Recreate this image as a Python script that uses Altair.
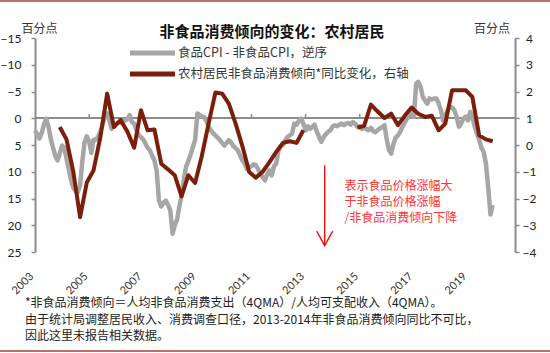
import altair as alt
import pandas as pd

# ---------------- data ----------------
# Food CPI - non-food CPI (monthly, percentage points), Jan..Dec per year
gray_2003 = [2.3, 3.0, 3.8, 2.8, 1.2, 0.1, 1.5, 3.8, 5.5, 7.0, 7.9, 6.6]
gray_2004 = [5.1, 5.5, 7.5, 9.5, 11.5, 13.0, 13.6, 13.8, 12.5, 8.0, 4.4, 3.4]
gray_2005 = [4.4, 6.5, 4.0, 4.0, 3.5, 2.5, 1.2, -0.3, -0.9, 0.4, 2.0, 1.2]
gray_2006 = [1.0, 0.8, 0.8, 0.6, 0.4, 0.2, -0.6, 0.7, 1.0, 2.2, 3.2, 3.5]
gray_2007 = [4.0, 4.75, 5.5, 6.0, 7.0, 7.9, 9.75, 15.4, 16.5, 15.8, 15.4, 16.2]
gray_2008 = [17.2, 21.6, 20.0, 19.0, 16.6, 14.5, 11.5, 9.1, 8.0, 6.8, 5.4, 4.1]
gray_2009 = [-0.9, -0.6, -0.3, -0.25, 0.5, 1.5, 2.25, 2.8, 3.2, 3.6, 4.1, 4.6]
gray_2010 = [5.1, 4.6, 4.1, 4.5, 5.2, 5.6, 6.0, 7.0, 7.9, 8.5, 9.5, 9.1]
gray_2011 = [9.0, 8.6, 8.8, 9.5, 10.4, 11.0, 11.6, 10.5, 9.75, 10.7, 9.0, 8.5]
gray_2012 = [6.0, 5.2, 5.0, 4.1, 3.5, 3.2, 2.9, 1.0, 1.2, 0.5, 0.05, 1.0]
gray_2013 = [2.25, 1.5, 2.0, 1.6, 1.2, 2.5, 3.5, 4.4, 3.5, 3.0, 2.5, 2.25]
gray_2014 = [1.5, 1.3, 1.5, 1.2, 1.0, 1.3, 1.0, 0.9, 1.2, 0.7, 1.0, 1.6]
gray_2015 = [1.5, 2.0, 1.8, 2.0, 2.25, 1.8, 2.4, 2.6, 2.2, 1.9, 1.6, 1.3]
gray_2016 = [4.0, 6.0, 6.6, 4.75, 3.6, 3.2, 2.5, 1.6, 0.8, 0.05, -0.5, -1.2]
gray_2017 = [-0.25, -6.5, -6.8, -5.9, -4.0, -3.3, -2.75, -3.7, -3.5, -3.7, -3.7, -2.8]
gray_2018 = [-1.5, 0.5, -0.5, -1.5, -2.1, -2.0, -1.5, -0.3, 1.6, 1.0, 0.05, -0.3]
gray_2019 = [0.4, -1.2, -0.25, 1.5, 2.8, 4.0, 5.5, 6.3, 8.5, 12.9, 18.0, 16.2]
gray_years = list(range(2003, 2020))
gray_by_year = [gray_2003, gray_2004, gray_2005, gray_2006, gray_2007, gray_2008,
                gray_2009, gray_2010, gray_2011, gray_2012, gray_2013, gray_2014,
                gray_2015, gray_2016, gray_2017, gray_2018, gray_2019]

# Rural non-food consumption propensity, yoy change (quarterly, right axis)
red_dates_a = ["2003-12", "2004-03", "2004-06", "2004-09", "2004-12", "2005-03", "2005-06",
               "2005-09", "2005-12", "2006-03", "2006-06", "2006-09", "2006-12", "2007-03",
               "2007-06", "2007-09", "2007-12", "2008-03", "2008-06", "2008-09", "2008-12",
               "2009-03", "2009-06", "2009-09", "2009-12", "2010-03", "2010-06", "2010-09",
               "2010-12", "2011-03", "2011-06", "2011-09", "2011-12", "2012-03", "2012-06",
               "2012-09", "2012-12"]
red_vals_a = [0.67, 0.21, -1.0, -2.70, -1.39, -0.95, 0.29, 1.92, 0.67, 0.93, 0.5, -0.10,
              1.30, 0.55, 0.58, -0.70, -0.91, -1.13, -1.92, -1.13, -1.42, -0.42, 0.80,
              1.96, 1.92, 1.55, 0.80, -0.05, -1.01, -1.22, -1.0, -0.64, -0.26, 0.08, 0.14,
              0.08, 0.55]
red_dates_b = ["2014-12", "2015-03", "2015-06", "2015-09", "2015-12", "2016-03", "2016-06",
               "2016-09", "2016-12", "2017-03", "2017-06", "2017-09", "2017-12", "2018-03",
               "2018-06", "2018-09", "2018-12", "2019-03", "2019-06", "2019-09", "2019-12"]
red_vals_b = [0.65, 0.71, 1.51, 1.25, 1.01, 1.17, 0.74, 1.1, 1.40, 1.17, 1.05, 1.09, 0.55,
              0.80, 2.05, 2.05, 2.05, 1.80, 0.36, 0.21, 0.14]

tick_years = [2005, 2007, 2009, 2011, 2013, 2015, 2017, 2019]
label_years = [2003, 2005, 2007, 2009, 2011, 2013, 2015, 2017, 2019]
left_ticks = [-15, -10, -5, 0, 5, 10, 15, 20, 25]
right_ticks = [4, 3, 2, 1, 0, -1, -2, -3, -4]

title_text = "非食品消费倾向的变化：农村居民"
legend_gray = "食品CPI - 非食品CPI，逆序"
legend_red = "农村居民非食品消费倾向*同比变化，右轴"
unit_text = "百分点"
ann_lines = ["表示食品价格涨幅大", "于非食品价格涨幅", "/非食品消费倾向下降"]
ann_level = [12.6, 15.6, 18.6]
ann_date = "2014-06-10"
arrow_date = "2013-09-15"
arrow_top, arrow_bottom = 8.8, 23.8
notes = ["*非食品消费倾向＝人均非食品消费支出（4QMA）/人均可支配收入（4QMA）。",
         "由于统计局调整居民收入、消费调查口径，2013-2014年非食品消费倾向同比不可比，",
         "因此这里未报告相关数据。"]

# ---------------- tables ----------------
gray_rows = []
for yr, vals in zip(gray_years, gray_by_year):
    for m, v in enumerate(vals, start=1):
        gray_rows.append({"date": pd.Timestamp(yr, m, 1), "v": v})
gray_df = pd.DataFrame(gray_rows)

red_df = pd.DataFrame(
    [{"date": pd.Timestamp(d + "-01"), "v": v, "seg": "a"} for d, v in zip(red_dates_a, red_vals_a)]
    + [{"date": pd.Timestamp(d + "-01"), "v": v, "seg": "b"} for d, v in zip(red_dates_b, red_vals_b)]
)
tick_df = pd.DataFrame({"date": [pd.Timestamp(y, 1, 1) for y in tick_years]})
xlab_df = pd.DataFrame({"date": [pd.Timestamp(y, 1, 1) for y in label_years],
                        "lbl": [str(y) for y in label_years]})
ann_df = pd.DataFrame({"date": [pd.Timestamp(ann_date)] * 3, "v": ann_level, "t": ann_lines})
arrow_df = pd.DataFrame({"date": [pd.Timestamp(arrow_date)], "top": [arrow_top], "bot": [arrow_bottom]})

W, H = 480, 214
GRAY = "#A6A6A6"
RED = "#7B1E0B"
AXC = "#8C8C8C"
FONT = "Noto Sans CJK SC"
NUMFONT = "Lato"

xdom = [alt.DateTime(year=2003, month=1, date=1), alt.DateTime(year=2020, month=9, date=27)]
xscale = alt.Scale(domain=xdom)
lscale = alt.Scale(domain=[-15, 25], reverse=True, nice=False, zero=False)
rscale = alt.Scale(domain=[-4, 4], nice=False, zero=False)

left_axis = alt.Axis(
    values=left_ticks, orient="left", grid=False, domainColor=AXC, domainWidth=2,
    tickColor=AXC, tickWidth=1.5, tickSize=4, labelPadding=10, labelFont=NUMFONT,
    labelFontSize=12, labelColor="#222222", title=None,
)
right_axis = alt.Axis(
    values=right_ticks, orient="right", grid=False, domainColor=AXC, domainWidth=2,
    tickColor=AXC, tickWidth=1.5, tickSize=4, labelPadding=10, labelAlign="center",
    labelFont=NUMFONT, labelFontSize=12, labelColor="#222222", title=None,
)

X = lambda f: alt.X(f, type="temporal", scale=xscale, axis=None)
YL = lambda f: alt.Y(f, type="quantitative", scale=lscale, axis=left_axis)

gray_line = alt.Chart(gray_df).mark_line(color=GRAY, strokeWidth=4.5, strokeJoin="round").encode(
    x=X("date"), y=YL("v"),
)
zero_rule = alt.Chart(gray_df).mark_rule(color=AXC, strokeWidth=1.5).encode(
    y=alt.Y(datum=0, type="quantitative", scale=lscale, axis=left_axis),
)
tick_marks = alt.Chart(tick_df).mark_rule(color=AXC, strokeWidth=1.5).encode(
    x=X("date"),
    y=alt.Y(datum=0, type="quantitative", scale=lscale, axis=left_axis),
    y2=alt.Y2(datum=-0.8),
)
year_labels = alt.Chart(xlab_df).mark_text(
    align="right", baseline="middle", font=NUMFONT, fontSize=11,
    color="#333333", dx=-4,
).encode(x=X("date"), y=alt.value(H + 20), text="lbl:N", angle=alt.value(315))
arrow_line = alt.Chart(arrow_df).mark_rule(color="#FF0000", strokeWidth=1.3).encode(
    x=X("date"), y=YL("top"), y2="bot:Q",
)
arrow_head = alt.Chart(arrow_df).mark_point(
    shape="M-1,-1.8L0,0L1,-1.8", size=256, filled=False, color="#FF0000", strokeWidth=1.3, opacity=1
).encode(x=X("date"), y=YL("bot"))
ann_text = alt.Chart(ann_df).mark_text(
    align="left", baseline="middle", font=FONT, fontSize=12, color="#FF3333"
).encode(x=X("date"), y=YL("v"), text="t:N")

left_group = alt.layer(zero_rule, tick_marks, gray_line, arrow_line, arrow_head, ann_text, year_labels)

red_line = alt.Chart(red_df).mark_line(color=RED, strokeWidth=4, strokeJoin="round").encode(
    x=X("date"),
    y=alt.Y("v:Q", scale=rscale, axis=right_axis),
    detail="seg:N",
)

one = alt.Data(values=[{}])


def txt(s, x, y, size=12.5, bold=False, align="left", color="#333333"):
    return alt.Chart(one).mark_text(
        text=s, align=align, baseline="middle", font=FONT, fontSize=size,
        fontWeight="bold" if bold else "normal", color=color,
    ).encode(x=alt.value(x), y=alt.value(y))


def hline(x1, x2, y, color, width):
    return alt.Chart(one).mark_rule(color=color, strokeWidth=width).encode(
        x=alt.value(x1), x2=alt.value(x2), y=alt.value(y)
    )


decor = [
    txt(title_text, 237, -6, size=15, bold=True, align="center", color="#111111"),
    txt(unit_text, 4.5, -9, size=12, align="center"),
    txt(unit_text, 457, -9, size=12, align="center"),
    hline(95, 140, 15, GRAY, 5),
    txt(legend_gray, 143, 15, size=12.5),
    hline(95, 140, 36, RED, 5),
    txt(legend_red, 143, 36, size=12.5),
    txt(notes[0], -10, 265, size=12, color="#222222"),
    txt(notes[1], -10, 282, size=12, color="#222222"),
    txt(notes[2], -10, 298, size=12, color="#222222"),
    hline(-35, 515, -37, "#B5716A", 2),
    hline(-35, 515, 313, "#B5716A", 2),
]

chart = alt.layer(left_group, red_line, *decor).resolve_scale(y="independent").properties(
    width=W, height=H,
    autosize=alt.AutoSizeParams(type="none"),
    padding={"left": 35, "top": 38, "right": 35, "bottom": 101},
    background="white",
).configure_view(stroke=None)

chart.save("out.html", embed_options={"renderer": "svg", "actions": False})
